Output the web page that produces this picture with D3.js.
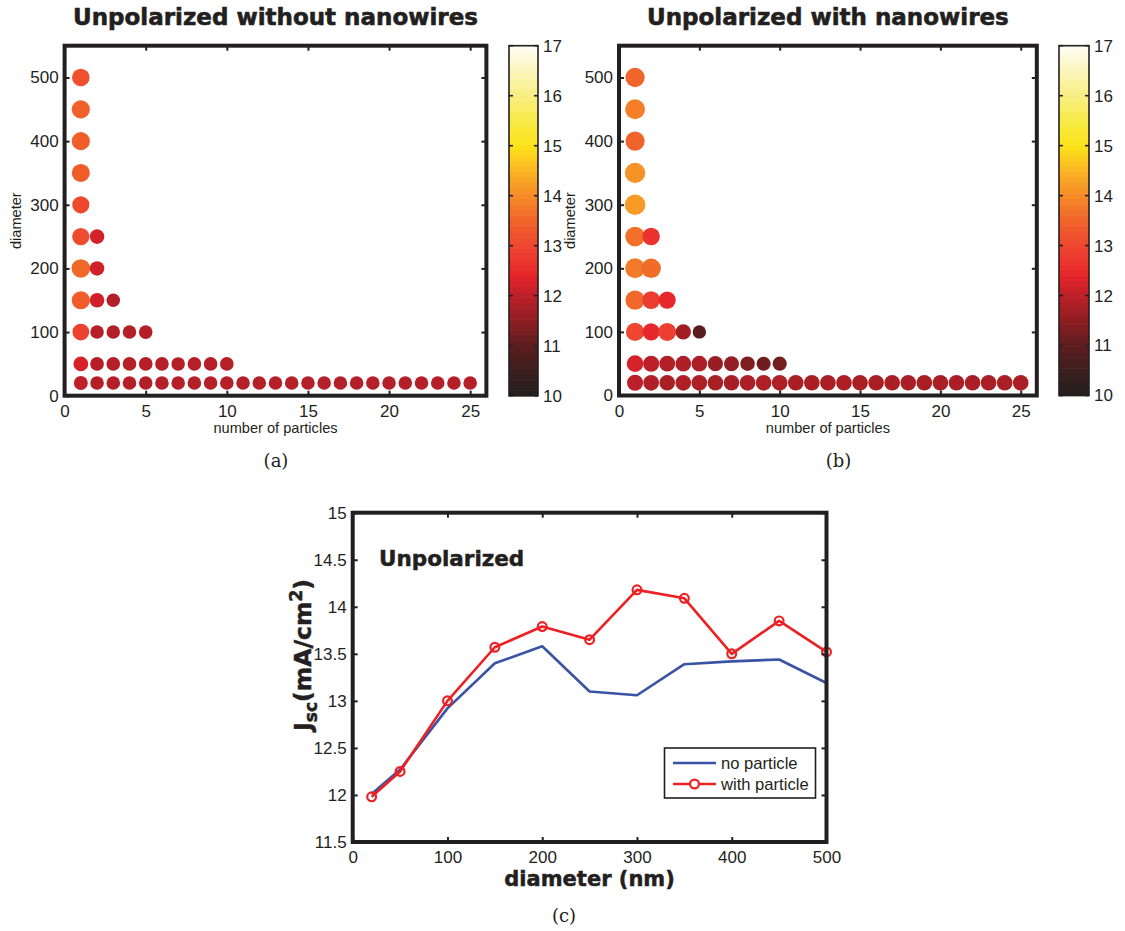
<!DOCTYPE html>
<html>
<head>
<meta charset="utf-8">
<script src="https://cdn.jsdelivr.net/npm/d3@7"></script>
<style>
  body { margin: 0; background: #fff; }
  svg { display: block; }
</style>
</head>
<body>
<svg id="fig" width="1125" height="931"></svg>
<script>
// ---------------- data ----------------
const diameters = [20, 50, 100, 150, 200, 250, 300, 350, 400, 450, 500];

// Jsc (mA/cm^2) for each diameter row; entry i is for (i + 1) particles
const jscWithoutNanowires = [
  [12.01, 11.92, 11.92, 11.93, 11.89, 11.91, 11.90, 11.92, 11.91, 11.92, 11.90, 11.91, 11.90,
   11.90, 11.91, 11.90, 11.90, 11.91, 11.90, 11.90, 11.90, 11.90, 11.90, 11.90, 11.91],
  [12.27, 11.93, 11.92, 11.92, 11.93, 11.90, 11.88, 11.90, 11.90, 11.92],
  [12.92, 11.90, 11.88, 11.90, 11.92],
  [13.40, 12.20, 11.88],
  [13.58, 12.18],
  [13.10, 12.20],
  [13.06],
  [13.39],
  [13.42],
  [13.44],
  [13.19]
];

const jscWithNanowires = [
  [11.98, 11.86, 11.78, 11.84, 11.85, 11.78, 11.77, 11.83, 11.84, 11.84, 11.80, 11.80, 11.80,
   11.82, 11.80, 11.80, 11.80, 11.80, 11.80, 11.80, 11.80, 11.80, 11.80, 11.80, 11.80],
  [12.25, 11.98, 11.88, 11.85, 11.82, 11.62, 11.55, 11.35, 11.20, 11.25],
  [13.00, 12.45, 12.85, 11.70, 10.95],
  [13.57, 12.80, 12.45],
  [13.79, 13.60],
  [13.65, 12.60],
  [14.18],
  [14.09],
  [13.50],
  [13.85],
  [13.52]
];

const particleTicks = [0, 5, 10, 15, 20, 25];
const diameterTicks = [0, 100, 200, 300, 400, 500];
const colorbarTicks = [10, 11, 12, 13, 14, 15, 16, 17];

// Jsc versus particle diameter (single particle)
const lineDiameters = [20, 50, 100, 150, 200, 250, 300, 350, 400, 450, 500];
const jscNoParticle   = [12.01, 12.27, 12.92, 13.40, 13.58, 13.10, 13.06, 13.39, 13.42, 13.44, 13.19];
const jscWithParticle = [11.98, 12.25, 13.00, 13.57, 13.79, 13.65, 14.18, 14.09, 13.50, 13.85, 13.52];
const jscTicks = [11.5, 12, 12.5, 13, 13.5, 14, 14.5, 15];
const nmTicks = [0, 100, 200, 300, 400, 500];

// ---------------- styling ----------------
const INK = "#231f20";
const SANS = "'Liberation Sans', Arial, sans-serif";
const HEAVY = "'DejaVu Sans', sans-serif";
const SERIF = "'DejaVu Serif', serif";

// hot-style colormap (print rendition)
const heatStops  = [10, 10.5, 11, 11.5, 12, 12.4, 12.75, 13, 13.5, 14, 14.5, 15, 15.5, 16, 16.5, 17];
const heatColors = ["#231f20", "#3b1e1e", "#5c1d1f", "#8e1e22", "#bd1f29", "#e5242a", "#ec3a2f",
                    "#ee4630", "#f0632a", "#f58b27", "#fab424", "#fde41a", "#f7ea45", "#f8ee83",
                    "#fbf5bb", "#fffef6"];
const heat = d3.scaleLinear().domain(heatStops).range(heatColors)
  .interpolate(d3.interpolateRgb).clamp(true);

const svg = d3.select("#fig");
svg.append("rect").attr("width", 1125).attr("height", 931).attr("fill", "#fff");

// ---------------- helpers ----------------
function drawAxes(box, xs, ys, xTickVals, yTickVals, o) {
  const g = svg.append("g");
  const bottom = d3.axisBottom(xs).tickValues(xTickVals).tickSizeInner(-5).tickSizeOuter(0)
    .tickPadding(o.xPad).tickFormat(o.xFmt || d3.format("d"));
  const top = d3.axisTop(xs).tickValues(xTickVals).tickSizeInner(-5).tickSizeOuter(0).tickFormat("");
  const left = d3.axisLeft(ys).tickValues(yTickVals).tickSizeInner(-5).tickSizeOuter(0)
    .tickPadding(o.yPad).tickFormat(o.yFmt || d3.format("d"));
  const right = d3.axisRight(ys).tickValues(yTickVals).tickSizeInner(-5).tickSizeOuter(0).tickFormat("");

  g.append("g").attr("transform", `translate(0,${box.bottom})`).call(bottom);
  g.append("g").attr("transform", `translate(0,${box.top})`).call(top);
  g.append("g").attr("transform", `translate(${box.left},0)`).call(left);
  g.append("g").attr("transform", `translate(${box.right},0)`).call(right);

  g.selectAll(".domain").remove();
  g.selectAll(".tick line").attr("stroke", INK).attr("stroke-width", 2);
  g.selectAll(".tick text").attr("fill", INK).style("font-family", SANS)
    .style("font-size", o.fontSize + "px");

  svg.append("rect")
    .attr("x", box.left).attr("y", box.top)
    .attr("width", box.right - box.left).attr("height", box.bottom - box.top)
    .attr("fill", "none").attr("stroke", INK).attr("stroke-width", 4);
}

function drawColorbar(x0, x1, top, bottom) {
  const cs = d3.scaleLinear().domain([10, 17]).range([bottom, top]);
  const g = svg.append("g");
  const n = 64, step = 7 / n;
  const bands = d3.range(n).map(i => 10 + i * step);
  g.selectAll("rect.band").data(bands).join("rect")
    .attr("class", "band")
    .attr("x", x0).attr("width", x1 - x0)
    .attr("y", v => cs(v + step))
    .attr("height", v => cs(v) - cs(v + step) + 0.6)
    .attr("fill", v => heat(v + step / 2));
  g.append("rect").attr("x", x0).attr("y", top).attr("width", x1 - x0).attr("height", bottom - top)
    .attr("fill", "none").attr("stroke", INK).attr("stroke-width", 1.6);
  const t = g.selectAll("g.cbt").data(colorbarTicks).join("g").attr("class", "cbt");
  t.append("line").attr("x1", x0).attr("x2", x0 + 4).attr("y1", v => cs(v)).attr("y2", v => cs(v))
    .attr("stroke", INK).attr("stroke-width", 1.6);
  t.append("line").attr("x1", x1 - 4).attr("x2", x1).attr("y1", v => cs(v)).attr("y2", v => cs(v))
    .attr("stroke", INK).attr("stroke-width", 1.6);
  t.append("text").attr("x", x1 + 5).attr("y", v => cs(v)).attr("dy", "0.35em")
    .attr("fill", INK).style("font-family", SANS).style("font-size", "17px")
    .text(d => d);
}

function drawScatterPanel(box, cbar, values, title, areaDomain, areaRange, caption, captionX) {
  const xs = d3.scaleLinear().domain([0, 26]).range([box.left, box.right]);
  const ys = d3.scaleLinear().domain([0, 550]).range([box.bottom, box.top]);
  const area = d3.scaleLinear().domain(areaDomain).range(areaRange);
  const radius = v => Math.sqrt(Math.max(area(v), 20));

  const pts = [];
  diameters.forEach((d, r) => values[r].forEach((v, i) => pts.push({ n: i + 1, d, v })));

  svg.append("g").selectAll("circle").data(pts).join("circle")
    .attr("cx", p => xs(p.n)).attr("cy", p => ys(p.d))
    .attr("r", p => radius(p.v))
    .attr("fill", p => heat(p.v));

  drawAxes(box, xs, ys, particleTicks, diameterTicks, { xPad: 9.5, yPad: 6, fontSize: 17 });

  svg.append("text").attr("x", (box.left + box.right) / 2).attr("y", 433)
    .attr("text-anchor", "middle").attr("fill", INK)
    .style("font-family", SANS).style("font-size", "14.6px")
    .text("number of particles");
  svg.append("text")
    .attr("transform", `translate(${box.left - 44},${(box.top + box.bottom) / 2}) rotate(-90)`)
    .attr("text-anchor", "middle").attr("fill", INK)
    .style("font-family", SANS).style("font-size", "14.6px")
    .text("diameter");
  svg.append("text").attr("x", (box.left + box.right) / 2).attr("y", 25)
    .attr("text-anchor", "middle").attr("fill", INK)
    .attr("stroke", INK).attr("stroke-width", 0.6)
    .style("font-family", HEAVY).style("font-weight", "bold").style("font-size", "23px")
    .text(title);

  drawColorbar(cbar[0], cbar[1], box.top, box.bottom);

  svg.append("text").attr("x", captionX).attr("y", 467).attr("text-anchor", "middle")
    .attr("fill", INK).style("font-family", SERIF).style("font-size", "18px").text(caption);
}

// ---------------- panels (a) and (b) ----------------
drawScatterPanel({ left: 64.6, right: 486.4, top: 45.7, bottom: 395.7 }, [509, 538],
  jscWithoutNanowires, "Unpolarized without nanowires", [11.9, 13.58], [46, 86.5], "(a)", 276);

drawScatterPanel({ left: 619, right: 1036.8, top: 45.7, bottom: 395.5 }, [1059, 1089],
  jscWithNanowires, "Unpolarized with nanowires", [10.95, 14.18], [45, 106], "(b)", 838.5);

// ---------------- panel (c) ----------------
(function () {
  const box = { left: 352.7, right: 826.5, top: 512.7, bottom: 842 };
  const xs = d3.scaleLinear().domain([0, 500]).range([box.left, box.right]);
  const ys = d3.scaleLinear().domain([11.5, 15]).range([box.bottom, box.top]);
  const BLUE = "#3a53a4", RED = "#ed2024";

  const line = d3.line().x(d => xs(d[0])).y(d => ys(d[1]));
  const noP = lineDiameters.map((d, i) => [d, jscNoParticle[i]]);
  const withP = lineDiameters.map((d, i) => [d, jscWithParticle[i]]);

  svg.append("path").datum(noP).attr("d", line).attr("fill", "none")
    .attr("stroke", BLUE).attr("stroke-width", 2.6).attr("stroke-linejoin", "round");
  svg.append("path").datum(withP).attr("d", line).attr("fill", "none")
    .attr("stroke", RED).attr("stroke-width", 2.6).attr("stroke-linejoin", "round");
  svg.append("g").selectAll("circle").data(withP).join("circle")
    .attr("cx", d => xs(d[0])).attr("cy", d => ys(d[1])).attr("r", 4.4)
    .attr("fill", "none").attr("stroke", RED).attr("stroke-width", 2.2);

  drawAxes(box, xs, ys, nmTicks, jscTicks,
    { xPad: 9, yPad: 6, fontSize: 17, yFmt: d => String(d) });

  svg.append("text").attr("x", 379).attr("y", 566).attr("fill", INK)
    .attr("stroke", INK).attr("stroke-width", 0.5)
    .style("font-family", HEAVY).style("font-weight", "bold").style("font-size", "21.5px")
    .text("Unpolarized");

  svg.append("text").attr("x", (box.left + box.right) / 2).attr("y", 886)
    .attr("text-anchor", "middle").attr("fill", INK)
    .attr("stroke", INK).attr("stroke-width", 0.5)
    .style("font-family", HEAVY).style("font-weight", "bold").style("font-size", "21px")
    .text("diameter (nm)");

  const yl = svg.append("text")
    .attr("transform", "translate(311,655) rotate(-90)")
    .attr("text-anchor", "middle").attr("fill", INK)
    .attr("stroke", INK).attr("stroke-width", 0.5)
    .style("font-family", HEAVY).style("font-weight", "bold").style("font-size", "23.5px");
  yl.append("tspan").text("J");
  yl.append("tspan").attr("dy", 6).style("font-size", "17px").text("sc");
  yl.append("tspan").attr("dy", -6).text("(mA/cm");
  yl.append("tspan").attr("dy", -9).style("font-size", "17px").text("2");
  yl.append("tspan").attr("dy", 9).text(")");

  // legend
  const lg = svg.append("g");
  lg.append("rect").attr("x", 664.5).attr("y", 748).attr("width", 151).attr("height", 50)
    .attr("fill", "#fff").attr("stroke", INK).attr("stroke-width", 1.6);
  lg.append("line").attr("x1", 673).attr("x2", 716).attr("y1", 763).attr("y2", 763)
    .attr("stroke", BLUE).attr("stroke-width", 2.6);
  lg.append("line").attr("x1", 673).attr("x2", 716).attr("y1", 784).attr("y2", 784)
    .attr("stroke", RED).attr("stroke-width", 2.6);
  lg.append("circle").attr("cx", 694.5).attr("cy", 784).attr("r", 4.4)
    .attr("fill", "#fff").attr("stroke", RED).attr("stroke-width", 2.2);
  lg.append("text").attr("x", 721).attr("y", 768.5).attr("fill", INK)
    .style("font-family", SANS).style("font-size", "16.6px").text("no particle");
  lg.append("text").attr("x", 721).attr("y", 790).attr("fill", INK)
    .style("font-family", SANS).style("font-size", "16.6px").text("with particle");

  svg.append("text").attr("x", 564).attr("y", 922).attr("text-anchor", "middle")
    .attr("fill", INK).style("font-family", SERIF).style("font-size", "18px").text("(c)");
})();
</script>
</body>
</html>
